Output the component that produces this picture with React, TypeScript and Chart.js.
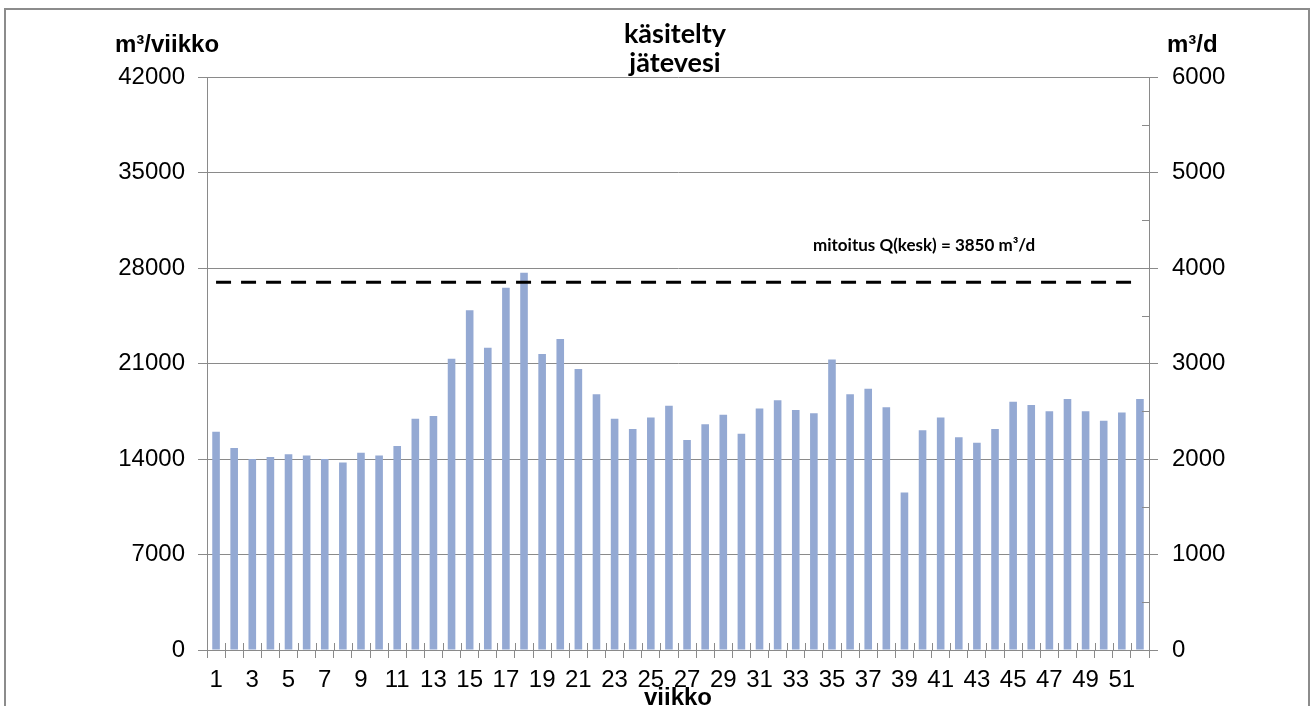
import React, { useEffect, useRef } from "react";
import { Chart, registerables } from "chart.js";

Chart.register(...registerables);

// ---- data ----
const weeks = [
  "1", "2", "3", "4", "5", "6", "7", "8", "9", "10",
  "11", "12", "13", "14", "15", "16", "17", "18", "19", "20",
  "21", "22", "23", "24", "25", "26", "27", "28", "29", "30",
  "31", "32", "33", "34", "35", "36", "37", "38", "39", "40",
  "41", "42", "43", "44", "45", "46", "47", "48", "49", "50",
  "51", "52",
];

// treated wastewater, m³/week
const treatedVolume = [
  16000, 14800, 14000, 14150, 14350, 14250, 14000, 13750, 14450, 14250,
  14950, 16950, 17150, 21350, 24900, 22150, 26550, 27650, 21700, 22800,
  20600, 18750, 16950, 16200, 17050, 17900, 15400, 16550, 17250, 15850,
  17700, 18300, 17600, 17350, 21300, 18750, 19150, 17800, 11550, 16100,
  17050, 15600, 15200, 16200, 18200, 17950, 17500, 18400, 17500, 16800,
  17400, 18400,
];

// design flow Q(kesk), m³/d
const designFlow = 3850;
const designLine = [
  { x: "1", y: designFlow },
  { x: "52", y: designFlow },
];

const leftTicks = [0, 7000, 14000, 21000, 28000, 35000, 42000];
const rightTicks = [0, 1000, 2000, 3000, 4000, 5000, 6000];
const rightMinorTicks = [500, 1500, 2500, 3500, 4500, 5500];

const titleLines = ["käsitelty", "jätevesi"];
const leftUnit = "m³/viikko";
const rightUnit = "m³/d";
const xTitle = "viikko";
const annotation = "mitoitus Q(kesk) = 3850 m³/d";

// ---- styles ----
const GRID = "#8a8a8a";
const BAR = "#94a9d3";
const TICK_FONT = { family: "'Liberation Sans', Arial, sans-serif", size: 24 };

const overlayPlugin = {
  id: "overlay",
  afterDraw(chart: any) {
    const ctx = chart.ctx;
    const { left, right, bottom } = chart.chartArea;
    ctx.save();
    ctx.strokeStyle = GRID;
    ctx.lineWidth = 1;
    // minor ticks on right axis (inside)
    const y1 = chart.scales.y1;
    ctx.beginPath();
    for (const v of rightMinorTicks) {
      const py = Math.round(y1.getPixelForValue(v)) + 0.5;
      ctx.moveTo(right - 7, py);
      ctx.lineTo(right, py);
    }
    // x tick marks crossing the axis (inner part)
    const n = chart.data.labels.length;
    const w = (right - left) / n;
    for (let i = 0; i <= n; i++) {
      const px = Math.round(left + i * w) + 0.5;
      ctx.moveTo(px, bottom - 7);
      ctx.lineTo(px, bottom);
    }
    ctx.stroke();

    // texts
    ctx.fillStyle = "#000";
    ctx.textBaseline = "alphabetic";
    ctx.textAlign = "center";
    ctx.font = "bold 27px Lato, 'Open Sans', sans-serif";
    ctx.fillText(titleLines[0], 675, 43);
    ctx.fillText(titleLines[1], 675, 72);

    ctx.textAlign = "left";
    ctx.font = "bold 24px 'Liberation Sans', Arial, sans-serif";
    ctx.fillText(leftUnit, 115, 52);
    ctx.fillText(rightUnit, 1167, 52);

    ctx.textAlign = "center";
    ctx.fillText(xTitle, (left + right) / 2, 705);

    ctx.textAlign = "left";
    ctx.font = "bold 17px Lato, 'Open Sans', sans-serif";
    ctx.fillText(annotation, 813, 251);
    ctx.restore();
  },
};

export default function App() {
  const ref = useRef<HTMLCanvasElement | null>(null);

  useEffect(() => {
    let chart: Chart | null = null;
    let cancelled = false;
    const fontsReady = Promise.all([
      document.fonts.load("bold 27px Lato"),
      document.fonts.load("bold 17px Lato"),
      document.fonts.load("24px 'Liberation Sans'"),
      document.fonts.load("bold 24px 'Liberation Sans'"),
    ]).catch(() => null);

    fontsReady.then(() => {
      if (cancelled || !ref.current) return;
      chart = new Chart(ref.current, {
        type: "bar",
        data: {
          labels: weeks,
          datasets: [
            {
              type: "line",
              data: designLine as any,
              yAxisID: "y1",
              borderColor: "#000",
              borderWidth: 3,
              borderDash: [15, 10],
              pointRadius: 0,
              fill: false,
              order: 0,
            } as any,
            {
              type: "bar",
              data: treatedVolume,
              yAxisID: "y",
              backgroundColor: BAR,
              borderWidth: 0,
              barPercentage: 0.42,
              categoryPercentage: 1,
              order: 1,
            },
          ],
        },
        options: {
          responsive: false,
          animation: false,
          devicePixelRatio: 1,
          layout: { padding: { left: 0, right: 0, top: 77, bottom: 0 } },
          plugins: {
            legend: { display: false },
            title: { display: false },
            tooltip: { enabled: false },
          },
          scales: {
            x: {
              type: "category",
              offset: true,
              grid: {
                display: true,
                drawOnChartArea: false,
                drawTicks: true,
                tickLength: 8,
                color: GRID,
                offset: true,
              },
              border: { display: true, color: GRID, width: 1 },
              ticks: {
                autoSkip: false,
                maxRotation: 0,
                minRotation: 0,
                padding: 8,
                color: "#000",
                font: TICK_FONT,
                callback: (_v: any, i: number) => (i % 2 === 0 ? weeks[i] : ""),
              },
              afterFit: (s: any) => {
                s.height = 56;
              },
            },
            y: {
              position: "left",
              min: 0,
              max: 42000,
              afterBuildTicks: (s: any) => {
                s.ticks = leftTicks.map((v) => ({ value: v }));
              },
              ticks: {
                padding: 13,
                color: "#000",
                font: TICK_FONT,
                callback: (v: any) => String(v),
              },
              grid: { color: GRID, lineWidth: 1, tickLength: 9 },
              border: { display: true, color: GRID, width: 1 },
              afterFit: (s: any) => {
                s.width = 207;
              },
            },
            y1: {
              position: "right",
              min: 0,
              max: 6000,
              afterBuildTicks: (s: any) => {
                s.ticks = rightTicks.map((v) => ({ value: v }));
              },
              ticks: {
                padding: 14,
                color: "#000",
                font: TICK_FONT,
                callback: (v: any) => String(v),
              },
              grid: { drawOnChartArea: false, color: GRID, tickLength: 9 },
              border: { display: true, color: GRID, width: 1 },
              afterFit: (s: any) => {
                s.width = 1311 - 1149;
              },
            },
          },
        },
        plugins: [overlayPlugin],
      });
    });

    return () => {
      cancelled = true;
      if (chart) chart.destroy();
    };
  }, []);

  return (
    <div
      style={{
        position: "fixed",
        left: 0,
        top: 0,
        width: 1311,
        height: 706,
        overflow: "hidden",
        background: "#fff",
      }}
    >
      <div
        style={{
          position: "absolute",
          left: 4,
          top: 8,
          width: 1302,
          height: 720,
          border: "2px solid #8c8c8c",
          boxSizing: "content-box",
        }}
      />
      <canvas
        ref={ref}
        width={1311}
        height={706}
        style={{ position: "absolute", left: 0, top: 0, width: 1311, height: 706 }}
      />
    </div>
  );
}
